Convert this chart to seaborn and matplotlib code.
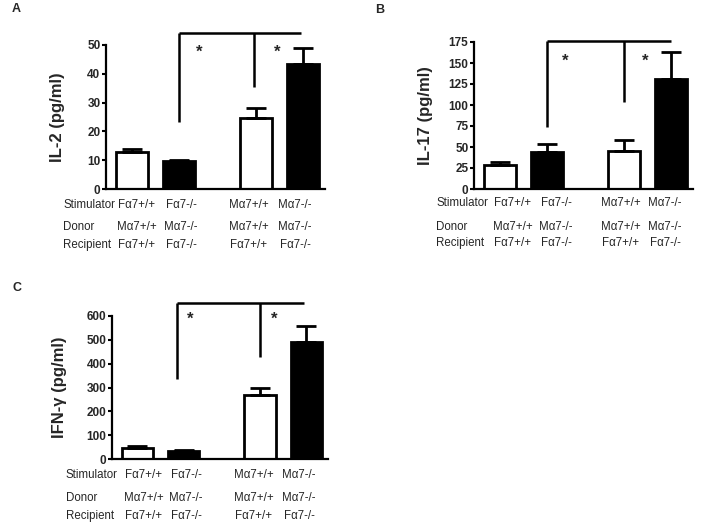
import pandas as pd
import matplotlib
matplotlib.use('Agg')
import matplotlib.pyplot as plt
import seaborn as sns

# data
groups = ['wt', 'ko', 'wt', 'ko']
positions = [0, 1, 2.65, 3.65]

il2_mean = [13.0, 9.8, 24.5, 43.5]
il2_top = [14.0, 10.2, 28.0, 49.0]
il17_mean = [28, 44, 45, 131]
il17_top = [32, 53, 58, 163]
ifng_mean = [45, 35, 270, 490]
ifng_top = [53, 39, 300, 558]

stimulator = ['Fα7+/+', 'Fα7-/-', 'Mα7+/+', 'Mα7-/-']
donor = ['Mα7+/+', 'Mα7-/-', 'Mα7+/+', 'Mα7-/-']
recipient = ['Fα7+/+', 'Fα7-/-', 'Fα7+/+', 'Fα7-/-']

sns.set_theme(style="ticks")
plt.rcParams['font.family'] = ['Liberation Sans', 'DejaVu Sans']

W, H = 702, 525
fig = plt.figure(figsize=(W / 100, H / 100), dpi=100)


def panel(rect_px, mean, top, ylabel, yticks, bracket, stars, letter, letter_xy,
          rows_px, row_label_x, col_x_px, label_x):
    l, r, t, b = rect_px
    ax = fig.add_axes([l / W, 1 - b / H, (r - l) / W, (b - t) / H])
    df = pd.DataFrame({'pos': positions, 'val': mean, 'grp': groups})
    sns.barplot(data=df, x='pos', y='val', hue='grp', palette={'wt': 'white', 'ko': 'black'},
                native_scale=True, dodge=False, width=0.68, edgecolor='black', linewidth=2,
                legend=False, ax=ax, zorder=2)
    err = [t_ - m for t_, m in zip(top, mean)]
    ax.errorbar(positions, mean, yerr=[[0] * 4, err], fmt='none', ecolor='black',
                elinewidth=2, capsize=7, capthick=2, zorder=3)
    ax.set_xlim(-0.55, 4.12)
    ax.set_ylim(0, yticks[-1])
    ax.set_yticks(yticks)
    ax.set_xticks([])
    ax.set_xlabel('')
    ax.set_ylabel(ylabel, fontsize=12, fontweight='bold')
    ax.yaxis.set_label_coords(label_x, 0.5)
    for lab in ax.get_yticklabels():
        lab.set_fontweight('bold')
        lab.set_fontsize(8.5)
    ax.tick_params(axis='y', length=3, width=1.5, pad=1, color='black')
    sns.despine(ax=ax)
    for s in ['left', 'bottom']:
        ax.spines[s].set_linewidth(1.6)
        ax.spines[s].set_color('black')

    # significance bracket
    ytop, xl, yl, xm, ym, xr = bracket
    kw = dict(color='black', lw=1.8, clip_on=False, solid_capstyle='butt')
    ax.plot([xl, xr], [ytop, ytop], **kw)
    ax.plot([xl, xl], [ytop, yl], **kw)
    ax.plot([xm, xm], [ytop, ym], **kw)
    for sx, sy in stars:
        ax.text(sx, sy, '*', fontsize=12, fontweight='bold', ha='center', va='center')

    fig.text(letter_xy[0] / W, 1 - letter_xy[1] / H, letter, fontsize=9, fontweight='bold',
             ha='left', va='center')

    # condition table under the axis
    for name, row, y in zip(['Stimulator', 'Donor', 'Recipient'], [stimulator, donor, recipient], rows_px):
        fig.text(row_label_x / W, 1 - y / H, name, fontsize=8.3, ha='left', va='center')
        for x, txt in zip(col_x_px, row):
            fig.text(x / W, 1 - y / H, txt, fontsize=8.3, ha='center', va='center')
    return ax


panel((106, 325, 45, 189), il2_mean, il2_top, 'IL-2 (pg/ml)', [0, 10, 20, 30, 40, 50],
      (54.2, 1.0, 23.3, 2.6, 35.4, 3.6), [(1.43, 47.5), (3.1, 47.5)],
      'A', (12, 9), (205, 227, 245), 63, [137, 181, 249, 295], -0.187)

panel((474, 693, 42, 189), il17_mean, il17_top, 'IL-17 (pg/ml)', [0, 25, 50, 75, 100, 125, 150, 175],
      (176, 1.0, 74, 2.65, 104, 3.65), [(1.4, 152), (3.1, 152)],
      'B', (375, 10), (203, 227, 243), 436, [513, 556, 621, 665], -0.187)

panel((112, 328, 316, 459), ifng_mean, ifng_top, 'IFN-γ (pg/ml)', [0, 100, 200, 300, 400, 500, 600],
      (654, 0.85, 335, 2.65, 428, 3.6), [(1.15, 585), (2.95, 585)],
      'C', (12, 288), (475, 498, 516), 66, [144, 186, 254, 299], -0.208)

fig.savefig('out.png', dpi=100, facecolor='white')
